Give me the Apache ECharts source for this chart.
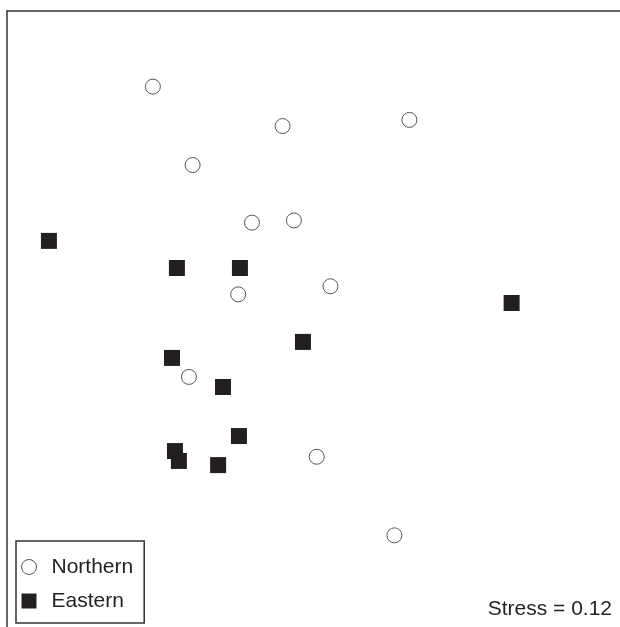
<!DOCTYPE html>
<html>
<head>
<meta charset="utf-8">
<style>
  html, body { margin: 0; padding: 0; background: #fff; }
  #chart { width: 620px; height: 627px; }
</style>
<script src="https://cdn.jsdelivr.net/npm/echarts@6/dist/echarts.min.js"></script>
</head>
<body>
<div id="chart"></div>
<script>
// NMDS scores
const northernX = [-0.605, -0.076, 0.441, -0.443, -0.201, -0.030, -0.257, 0.119, -0.458, 0.063, 0.380];
const northernY = [0.893, 0.733, 0.758, 0.575, 0.341, 0.350, 0.050, 0.083, -0.285, -0.609, -0.928];
const easternX = [-1.029, -0.507, -0.250, 0.858, 0.007, -0.527, -0.319, -0.254, -0.515, -0.499, -0.339];
const easternY = [0.267, 0.157, 0.157, 0.015, -0.143, -0.208, -0.326, -0.525, -0.586, -0.626, -0.643];
const groupNames = ['Northern', 'Eastern'];
const stressValue = 0.12;

const toPairs = (xs, ys) => xs.map((x, i) => [x, ys[i]]);

const chart = echarts.init(document.getElementById('chart'), null, { renderer: 'canvas' });
const textColor = '#231f20';
const font = '"Liberation Sans", Arial, Helvetica, sans-serif';

chart.setOption({
  animation: false,
  backgroundColor: '#ffffff',
  grid: { left: 7, top: 11, right: 0, bottom: 0, containLabel: false },
  xAxis: {
    type: 'value', min: -1.2, max: 1.3, position: 'top',
    axisLine: { show: true, onZero: false, lineStyle: { color: '#333', width: 1.5 } },
    axisTick: { show: false }, axisLabel: { show: false }, splitLine: { show: false }
  },
  yAxis: {
    type: 'value', min: -1.3, max: 1.2, position: 'left',
    axisLine: { show: true, onZero: false, lineStyle: { color: '#333', width: 1.5 } },
    axisTick: { show: false }, axisLabel: { show: false }, splitLine: { show: false }
  },
  legend: {
    orient: 'vertical',
    left: 16, top: 541,
    padding: [14, 11, 10, 5],
    itemWidth: 15, itemHeight: 15, itemGap: 10,
    borderColor: '#333', borderWidth: 1.5, borderRadius: 0,
    backgroundColor: '#fff',
    selectedMode: false,
    data: [
      { name: groupNames[0], icon: 'circle', itemStyle: { color: '#ffffff', borderColor: '#555', borderWidth: 1 } },
      { name: groupNames[1], icon: 'rect', itemStyle: { color: textColor, borderWidth: 0 } }
    ],
    textStyle: { fontFamily: font, fontSize: 21, color: textColor, lineHeight: 24, padding: [0, 0, 0, 10] }
  },
  graphic: [{
    type: 'text', right: 8, top: 599,
    style: { text: 'Stress = ' + stressValue.toFixed(2), fontFamily: font, fontSize: 21, fill: textColor }
  }],
  series: [
    {
      name: groupNames[0], type: 'scatter', symbol: 'circle', symbolSize: 15,
      itemStyle: { color: '#ffffff', borderColor: '#555', borderWidth: 1, opacity: 1 },
      data: toPairs(northernX, northernY), z: 3
    },
    {
      name: groupNames[1], type: 'scatter', symbol: 'rect', symbolSize: 16,
      itemStyle: { color: textColor, borderWidth: 0, opacity: 1 },
      data: toPairs(easternX, easternY), z: 2
    }
  ]
});
</script>
</body>
</html>
